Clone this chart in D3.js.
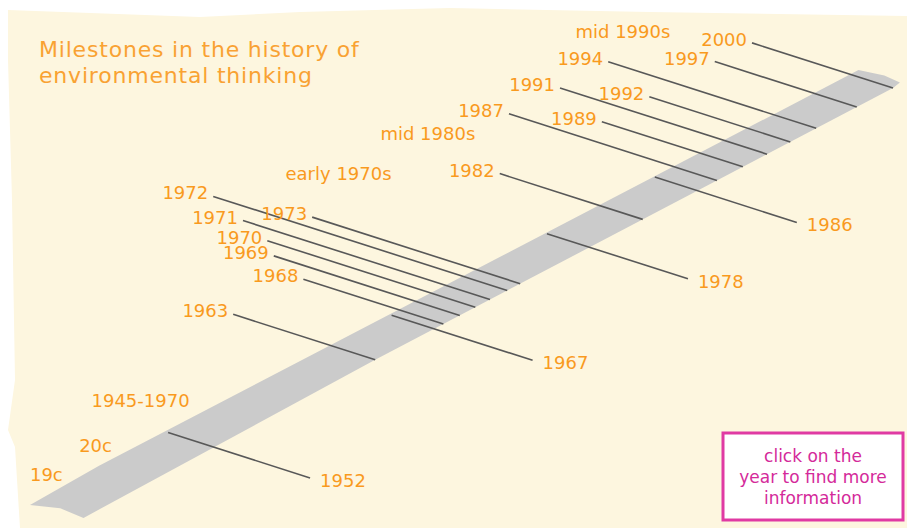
<!DOCTYPE html>
<html>
<head>
<meta charset="utf-8">
<script src="https://cdn.jsdelivr.net/npm/d3@7"></script>
<style>
  body { margin: 0; background: #fff; }
  svg { display: block; }
</style>
</head>
<body>
<div id="timeline"></div>
<script>
// milestones: label, place along the band (0-1000), side of the band, leader length
const eventLabels = ["1952", "1963", "1967", "1968", "1969", "1970", "1971", "1972", "1973", "1978",
                     "1982", "1986", "1987", "1989", "1991", "1992", "1994", "1997", "2000"];
const eventPos    = [160, 400, 419, 479, 498, 516, 533, 553, 568, 599,
                     710, 724, 796, 826, 854, 881, 911, 958, 1000];
const eventSide   = ["below", "above", "below", "above", "above", "above", "above", "above", "above", "below",
                     "above", "below", "above", "above", "above", "above", "above", "above", "above"];
const leaderLen   = [142, 142, 141, 140, 186, 208, 247, 294, 208, 141,
                     143, 142, 208, 141, 207, 141, 208, 142, 141];

// era labels without a leader: place along the band and rise above its top edge
const eraLabels = ["19c", "20c", "1945-1970", "early 1970s", "mid 1980s", "mid 1990s"];
const eraPos    = [38, 95, 185, 419, 516, 742];
const eraRise   = [7, 10, 14, 135, 131, 131];

const titleLines = ["Milestones in the history of", "environmental thinking"];
const noteLines  = ["click on the", "year to find more", "information"];

var width = 907;
var height = 528;

const svg = d3.select("#timeline").append("svg")
  .attr("width", width)
  .attr("height", height)
  .attr("viewBox", [0, 0, width, height]);

// cream paper with a ragged top and left edge
svg.append("path")
  .attr("d", "M8,10 L200,17 L300,12 L450,8 L650,12 L" + width + ",16 L" + width + "," + height +
             " L20," + height + " L15,447 L8,430 L15,380 L12,200 L8,60 Z")
  .attr("fill", "#fdf6df");

// the band runs bottom-left to top-right
const pos = d3.scaleLinear().domain([0, 1000]).range([30, 893]);
const topEdge = d3.scaleLinear().domain([30, 893]).range([505, 52]);
const thick = 36;      // vertical thickness of the band
const lean = 0.32;     // leader lines fall 0.32px per px to the right

// outline as [place along band, drop below the top edge]
const bandOutline = [[0, 0], [80, -3], [960, 0], [990, 19], [1008, 34], [1000, thick],
                     [400, thick], [62, 41], [35, 19]];
svg.append("path")
  .attr("d", d3.line()(bandOutline.map(d => {
    const x = pos(d[0]);
    return [x, topEdge(x) + d[1]];
  })) + "Z")
  .attr("fill", "#cbcbcb");

const events = eventLabels.map((label, i) => {
  const bx = pos(eventPos[i]);
  const L = leaderLen[i];
  if (eventSide[i] === "above") {
    const y1 = topEdge(bx) + thick;
    return { label, side: "above", x0: bx - L, y0: y1 - lean * L, x1: bx, y1 };
  }
  const y0 = topEdge(bx);
  return { label, side: "below", x0: bx, y0, x1: bx + L, y1: y0 + lean * L };
});

svg.append("g")
  .selectAll("line")
  .data(events)
  .join("line")
    .attr("x1", d => d.x0)
    .attr("y1", d => d.y0)
    .attr("x2", d => d.x1)
    .attr("y2", d => d.y1)
    .attr("stroke", "#585858")
    .attr("stroke-width", 1.6);

const labelFont = "'DejaVu Sans', sans-serif";
const orange = "#f99a1e";

svg.append("g")
  .selectAll("text")
  .data(events)
  .join("text")
    .attr("x", d => d.side === "above" ? d.x0 - 5 : d.x1 + 10)
    .attr("y", d => d.side === "above" ? d.y0 + 3 : d.y1 + 9)
    .attr("text-anchor", d => d.side === "above" ? "end" : "start")
    .style("font", "18px " + labelFont)
    .style("cursor", "pointer")
    .attr("fill", orange)
    .text(d => d.label);

svg.append("g")
  .selectAll("text")
  .data(eraLabels)
  .join("text")
    .attr("x", (d, i) => pos(eraPos[i]))
    .attr("y", (d, i) => topEdge(pos(eraPos[i])) - eraRise[i])
    .attr("text-anchor", "end")
    .style("font", "18px " + labelFont)
    .attr("fill", orange)
    .text(d => d);

// title
svg.append("g")
  .selectAll("text")
  .data(titleLines)
  .join("text")
    .attr("x", 39)
    .attr("y", (d, i) => 57 + i * 26)
    .style("font", "22px " + labelFont)
    .style("letter-spacing", "0.8px")
    .attr("fill", "#f9a233")
    .text(d => d);

// hint box
const note = svg.append("g").attr("transform", "translate(723,433)");
note.append("rect")
  .attr("width", 180)
  .attr("height", 87)
  .attr("fill", "#fff")
  .attr("stroke", "#e03aa3")
  .attr("stroke-width", 3);
note.selectAll("text")
  .data(noteLines)
  .join("text")
    .attr("x", 90)
    .attr("y", (d, i) => 29 + i * 21)
    .attr("text-anchor", "middle")
    .style("font", "17px " + labelFont)
    .attr("fill", "#d42a9a")
    .text(d => d);
</script>
</body>
</html>
